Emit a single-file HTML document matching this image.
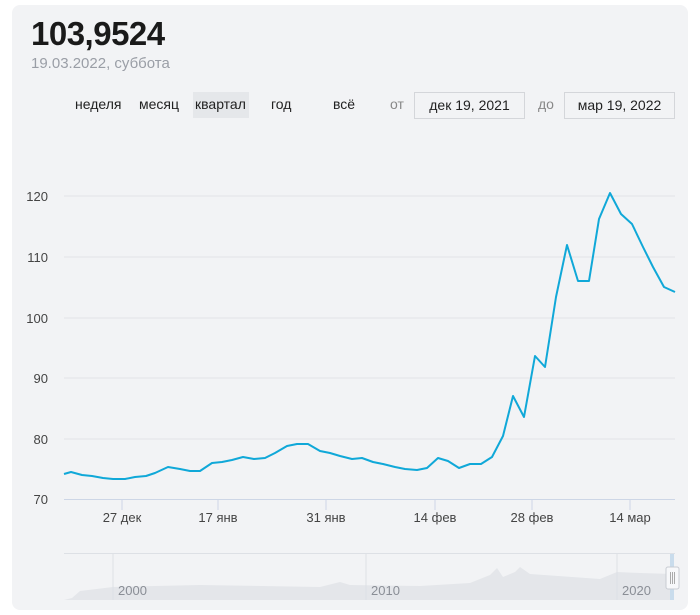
<!DOCTYPE html>
<html><head><meta charset="utf-8"><style>
body{margin:0;background:#fff;width:700px;height:615px;overflow:hidden;font-family:"Liberation Sans",sans-serif;}
.card{position:absolute;left:12px;top:5px;width:676px;height:605px;background:#f2f3f5;border-radius:8px;}
.t{position:absolute;white-space:nowrap;}
.box{position:absolute;border:1px solid #d4d6da;background:#f2f3f5;font-size:14px;color:#222;text-align:center;line-height:24px;box-sizing:border-box;}
</style></head><body>
<div class="card"></div>
<div class="t" style="left:31px;top:15px;font-size:33px;font-weight:bold;color:#1a1a1a;letter-spacing:-0.5px">103,9524</div>
<div class="t" style="left:31px;top:55px;font-size:15px;color:#9a9ea6">19.03.2022, суббота</div>
<div class="t" style="left:75px;top:96px;font-size:14px;color:#222">неделя</div>
<div class="t" style="left:139px;top:96px;font-size:14px;color:#222">месяц</div>
<div style="position:absolute;left:193px;top:92px;width:56px;height:26px;background:#e5e7ea"></div>
<div class="t" style="left:195px;top:96px;font-size:14px;color:#222">квартал</div>
<div class="t" style="left:271px;top:96px;font-size:14px;color:#222">год</div>
<div class="t" style="left:333px;top:96px;font-size:14px;color:#222">всё</div>
<div class="t" style="left:390px;top:96px;font-size:14px;color:#888">от</div>
<div class="box" style="left:414px;top:92px;width:111px;height:27px">дек 19, 2021</div>
<div class="t" style="left:538px;top:96px;font-size:14px;color:#888">до</div>
<div class="box" style="left:564px;top:92px;width:111px;height:27px">мар 19, 2022</div>
<svg width="700" height="615" style="position:absolute;left:0;top:0" font-family="Liberation Sans, sans-serif">
<g stroke="#e1e3e7" stroke-width="1">
<line x1="64" x2="675" y1="196" y2="196"/><line x1="64" x2="675" y1="257" y2="257"/><line x1="64" x2="675" y1="318" y2="318"/><line x1="64" x2="675" y1="378" y2="378"/><line x1="64" x2="675" y1="439" y2="439"/>
</g>
<line x1="64" x2="675" y1="499.5" y2="499.5" stroke="#cdd6e6"/>
<g stroke="#cdd6e6"><line x1="122" x2="122" y1="499" y2="510"/><line x1="218" x2="218" y1="499" y2="510"/><line x1="326" x2="326" y1="499" y2="510"/><line x1="435" x2="435" y1="499" y2="510"/><line x1="532" x2="532" y1="499" y2="510"/><line x1="630" x2="630" y1="499" y2="510"/></g>
<g font-size="13" fill="#444" text-anchor="end"><text x="48" y="201">120</text><text x="48" y="262">110</text><text x="48" y="323">100</text><text x="48" y="383">90</text><text x="48" y="444">80</text><text x="48" y="504">70</text></g>
<g font-size="13" fill="#444" text-anchor="middle"><text x="122" y="522">27 дек</text><text x="218" y="522">17 янв</text><text x="326" y="522">31 янв</text><text x="435" y="522">14 фев</text><text x="532" y="522">28 фев</text><text x="630" y="522">14 мар</text></g>
<polyline fill="none" stroke="#10a8d8" stroke-width="2" stroke-linejoin="round" points="64,474 71,472 82,475 92,476 103,478 113,479 125,479 135,477 146,476 155,473 168,467 180,469 190,471 200,471 212,463 222,462 232,460 243,457 254,459 265,458 275,453 287,446 297,444 308,444 320,451 330,453 340,456 352,459 362,458 373,462 383,464 395,467 405,469 417,470 427,468 438,458 448,461 459,468 470,464 481,464 492,457 503,436 513,396 524,417 535,356 545,367 556,297 567,245 578,281 589,281 599,219 610,193 621,214 632,224 643,247 653,267 664,287 675,292"/>
<line x1="64" x2="675" y1="553.5" y2="553.5" stroke="#dde0e5"/>
<path d="M64,600 L72,598 L80,591 L113,587 L200,585 L320,587 L340,582 L350,585 L420,586 L470,583 L490,575 L497,568 L503,577 L515,572 L520,567 L530,574 L600,579 L617,572 L640,573 L673,574 L673,600 Z" fill="#e4e6ea"/>
<g stroke="#dde0e5"><line x1="113" x2="113" y1="554" y2="600"/><line x1="366" x2="366" y1="554" y2="600"/><line x1="617" x2="617" y1="554" y2="600"/></g>
<rect x="670" y="554" width="4" height="46" fill="#c9dcec"/>
<g font-size="13" fill="#8a8e96"><text x="118" y="595">2000</text><text x="371" y="595">2010</text><text x="622" y="595">2020</text></g>
<rect x="666" y="567" width="13" height="22" fill="#f7f8fa" stroke="#c8ccd2" rx="2"/>
<g stroke="#aaa"><line x1="670.5" x2="670.5" y1="572" y2="584"/><line x1="672.5" x2="672.5" y1="572" y2="584"/><line x1="674.5" x2="674.5" y1="572" y2="584"/></g>
</svg>
</body></html>
